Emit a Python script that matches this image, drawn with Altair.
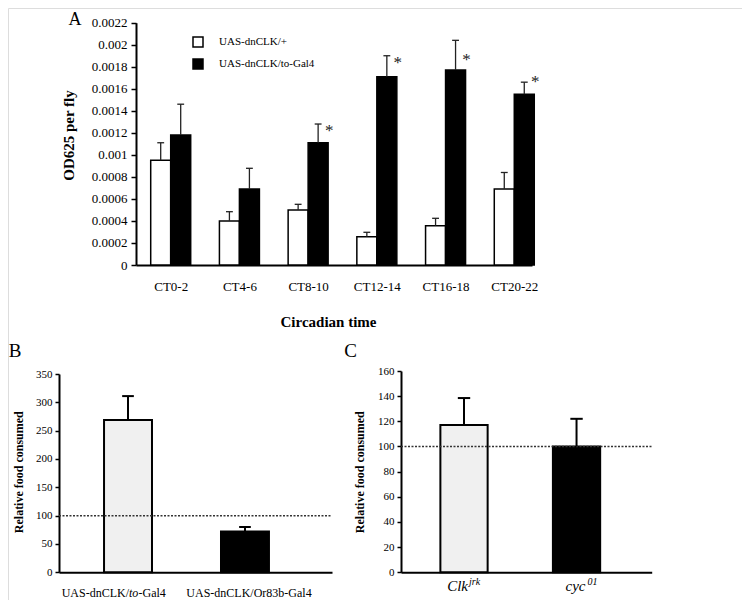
import altair as alt
import pandas as pd

# ---------------- Panel A data ----------------
ct_groups = ["CT0-2", "CT4-6", "CT8-10", "CT12-14", "CT16-18", "CT20-22"]
series_names = ["UAS-dnCLK/+", "UAS-dnCLK/to-Gal4"]
ctrl_mean = [0.00095, 0.00040, 0.00050, 0.000257, 0.000357, 0.00069]
ctrl_upper = [0.00111, 0.000484, 0.000551, 0.000297, 0.000424, 0.00084]
exp_mean = [0.00118, 0.00069, 0.00111, 0.00171, 0.00177, 0.00155]
exp_upper = [0.00146, 0.000878, 0.00128, 0.00190, 0.00204, 0.00166]
star_groups = ["CT8-10", "CT12-14", "CT16-18", "CT20-22"]
star_level = [0.001245, 0.001857, 0.001885, 0.001688]
a_y_ticks = [0, 0.0002, 0.0004, 0.0006, 0.0008, 0.001, 0.0012,
             0.0014, 0.0016, 0.0018, 0.002, 0.0022]

# ---------------- Panel B data ----------------
b_genotypes = ["UAS-dnCLK/to-Gal4", "UAS-dnCLK/Or83b-Gal4"]
b_mean = [269, 72]
b_upper = [311, 80]
b_y_ticks = [0, 50, 100, 150, 200, 250, 300, 350]

# ---------------- Panel C data ----------------
c_genotypes = ["Clk jrk", "cyc 01"]
c_mean = [117, 100]
c_upper = [138.5, 122]
c_y_ticks = [0, 20, 40, 60, 80, 100, 120, 140, 160]

reference_level = 100
bar_fills = ["#f0f0f0", "black"]

FONT = "Liberation Serif, Times New Roman, Times, serif"
W, H = 734, 592

# ---------------- tables ----------------
a_rows = []
for i, g in enumerate(ct_groups):
    for s, (m, u) in enumerate([(ctrl_mean[i], ctrl_upper[i]), (exp_mean[i], exp_upper[i])]):
        a_rows.append({"i": i, "group": g, "series": series_names[s], "s": s, "mean": m, "upper": u})
a_df = pd.DataFrame(a_rows)
star_df = pd.DataFrame({"i": [ct_groups.index(g) for g in star_groups], "level": star_level})
b_df = pd.DataFrame({"i": [0, 1], "genotype": b_genotypes, "mean": b_mean, "upper": b_upper, "fill": bar_fills})
c_df = pd.DataFrame({"i": [0, 1], "genotype": c_genotypes, "mean": c_mean, "upper": c_upper, "fill": bar_fills})

common_axis = dict(domainColor="black", domainWidth=2, tickColor="black", tickWidth=1.5,
                   labelColor="black", titleColor="black", grid=False, labelFont=FONT, titleFont=FONT)

# ---------------- Panel A ----------------
HALF_A = 0.291
CAP_A = 0.05
XA_DOM = [-0.505, 5.258]
xa = alt.Scale(domain=XA_DOM, range=[128, 524], nice=False, zero=False)
ya = alt.Scale(domain=[0, 0.0022], range=[257, 14.7], nice=False, zero=False)
label_expr = "[" + ",".join("'%s'" % g for g in ct_groups) + "][datum.value]"

a_base = alt.Chart(a_df).transform_calculate(
    x0="datum.i + (datum.s - 1) * %f" % HALF_A,
    x1="datum.i + datum.s * %f" % HALF_A,
    xc="datum.i + (datum.s - 0.5) * %f" % HALF_A,
    c0="datum.i + (datum.s - 0.5) * %f - %f" % (HALF_A, CAP_A),
    c1="datum.i + (datum.s - 0.5) * %f + %f" % (HALF_A, CAP_A),
    zero="0",
)

a_bars = a_base.mark_bar(stroke="black", strokeWidth=1.5).encode(
    x=alt.X("x0:Q", scale=xa, axis=alt.Axis(
        orient="bottom", offset=257 - H, values=list(range(len(ct_groups))), labelExpr=label_expr,
        ticks=False, tickSize=0, labelPadding=15, labelFontSize=13,
        title="Circadian time", titleFontSize=15, titleFontWeight="bold",
        titleX=320, titleY=49, titleBaseline="top", **common_axis)),
    x2="x1:Q",
    y=alt.Y("mean:Q", scale=ya, axis=alt.Axis(
        orient="left", offset=-128, values=a_y_ticks, format="~g", tickSize=5,
        labelPadding=4, labelFontSize=13,
        title="OD625 per fly", titleFontSize=15, titleFontWeight="bold",
        titleX=-60, titleY=127, **common_axis)),
    y2="zero:Q",
    fill=alt.Fill("series:N", scale=alt.Scale(domain=series_names, range=["white", "black"]),
                  legend=alt.Legend(orient="none", legendX=184, legendY=28, title=None,
                                    symbolType="square", symbolSize=100, symbolStrokeColor="black",
                                    symbolStrokeWidth=1.5, labelFont=FONT, labelFontSize=11,
                                    labelOffset=15, rowPadding=6, labelColor="black")),
)
a_err = a_base.mark_rule(color="#222222", strokeWidth=1.3).encode(
    x="xc:Q", y="mean:Q", y2="upper:Q")
a_cap = a_base.mark_rule(color="#222222", strokeWidth=1.3).encode(
    x="c0:Q", x2="c1:Q", y="upper:Q")
a_star = alt.Chart(star_df).transform_calculate(
    xs="datum.i + 0.5 * %f" % HALF_A
).mark_text(text="*", fontSize=17, dx=11, dy=3, baseline="middle", color="#222222", font=FONT).encode(
    x="xs:Q", y="level:Q")

panel_a = alt.layer(a_bars, a_err, a_cap, a_star)


# ---------------- helpers for B / C ----------------
def text_piece(i, txt, xs, ys, align, dx, dy, size, style="normal"):
    return alt.Chart(pd.DataFrame({"i": [i], "t": [txt]})).mark_text(
        align=align, baseline="alphabetic", dx=dx, dy=dy, fontSize=size,
        fontStyle=style, color="black", font=FONT
    ).encode(x=alt.X("i:Q", scale=xs), y=alt.datum(0, scale=ys), text="t:N")


def bar_panel(df, half, cap, xdom, xrange, yscale, yticks, yoffset, ytitle_x, labels):
    xs = alt.Scale(domain=xdom, range=xrange, nice=False, zero=False)
    base = alt.Chart(df).transform_calculate(
        x0="datum.i - %f" % half, x1="datum.i + %f" % half,
        c0="datum.i - %f" % cap, c1="datum.i + %f" % cap, zero="0")
    bars = base.mark_bar(stroke="black", strokeWidth=2).encode(
        x=alt.X("x0:Q", scale=xs, axis=alt.Axis(orient="bottom", offset=564.3 - H, labels=False,
                                                 ticks=False, tickSize=0, title=None, **common_axis)),
        x2="x1:Q",
        y=alt.Y("mean:Q", scale=yscale, axis=alt.Axis(
            orient="left", offset=yoffset, values=yticks, tickSize=4, labelPadding=3,
            labelFontSize=11, title="Relative food consumed", titleFontSize=12,
            titleFontWeight="bold", titleX=ytitle_x, titleY=463.7, **common_axis)),
        y2="zero:Q",
        fill=alt.Fill("fill:N", scale=None),
    )
    err = base.mark_rule(color="black", strokeWidth=2).encode(x="i:Q", y="mean:Q", y2="upper:Q")
    capm = base.mark_rule(color="black", strokeWidth=2).encode(x="c0:Q", x2="c1:Q", y="upper:Q")
    ref = alt.Chart(pd.DataFrame({"level": [reference_level]})).mark_rule(
        color="#333333", strokeWidth=1.5, strokeDash=[2, 1.5]).encode(
        x=alt.datum(xdom[0]), x2=alt.datum(xdom[1]), y="level:Q")
    pieces = [text_piece(*lab[:1], lab[1], xs, yscale, *lab[2:]) for lab in labels]
    return alt.layer(bars, ref, err, capm, *pieces)


yb = alt.Scale(domain=[0, 350], range=[564.3, 366], nice=False, zero=False)
panel_b = bar_panel(
    b_df, 0.205, 0.05, [-0.59, 1.744], [51, 324], yb, b_y_ticks, -51, -34,
    [
        (0, "UAS-dnCLK/", "right", 1, 25, 12),
        (0, "to", "left", 1, 25, 12, "italic"),
        (0, "-Gal4", "left", 10.5, 25, 12),
        (1, b_genotypes[1], "center", 4, 25, 12),
    ],
)

yc = alt.Scale(domain=[0, 160], range=[564.3, 363], nice=False, zero=False)
panel_c = bar_panel(
    c_df, 0.21, 0.055, [-0.56, 1.668], [393, 643.7], yc, c_y_ticks, -393, -35,
    [
        (0, c_genotypes[0].split()[0], "right", 4, 19, 15, "italic"),
        (0, c_genotypes[0].split()[1], "left", 5, 12.5, 10, "italic"),
        (1, c_genotypes[1].split()[0], "right", 9, 19, 15, "italic"),
        (1, c_genotypes[1].split()[1], "left", 11, 12.5, 10, "italic"),
    ],
)


def letter(txt, px, py, size=19):
    return alt.Chart(alt.Data(values=[{}])).mark_text(
        text=txt, fontSize=size, align="center", baseline="alphabetic", color="black", font=FONT
    ).encode(x=alt.value(px), y=alt.value(py))


chart = alt.layer(
    panel_a, panel_b, panel_c,
    letter("A", 67, 17, 18), letter("B", 7, 348.7), letter("C", 342.5, 348.7),
).resolve_scale(x="independent", y="independent", fill="independent").properties(
    width=W, height=H, padding=0, autosize=alt.AutoSizeParams(type="none"),
    background="white",
).configure_view(strokeWidth=0).configure(font=FONT)

chart.save("out.html", embed_options={"renderer": "svg", "actions": False})
